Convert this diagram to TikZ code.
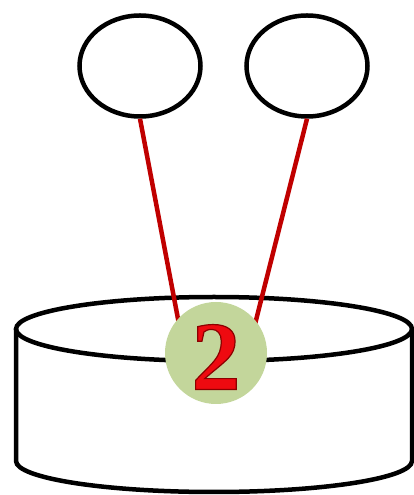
\documentclass[tikz,border=0pt]{standalone}
\usepackage{fontspec}
\setmainfont{Liberation Serif}
\usetikzlibrary{shapes.geometric}

\definecolor{badgegreen}{HTML}{C3D69B}
\definecolor{wirered}{HTML}{C00000}
\definecolor{digitred}{HTML}{EE0A10}

\newcommand{\outlined}[1]{\special{pdf:literal 2 Tr 1.2 w 0.55 0 0 RG}#1\special{pdf:literal 0 Tr}}

\begin{document}
\begin{tikzpicture}[x=1pt,y=1pt,line width=4.5pt]

    \useasboundingbox (0,0) rectangle (413,495);

    % the cylinder
    \draw (16,166) -- (16,34) arc[start angle=180,end angle=360,x radius=198,y radius=31] -- (412,166);
    \draw (214,166) ellipse[x radius=198,y radius=32];

    \node[ellipse, draw, minimum width=121, minimum height=101, inner sep=0] (leftball) at (140,429) {};
    \node[ellipse, draw, minimum width=121, minimum height=101, inner sep=0] (rightball) at (307,429) {};

    \coordinate (leftend) at (182,155);
    \coordinate (rightend) at (251,155);
    \draw[wirered] (leftball.south) -- (leftend);
    \draw[wirered] (rightball.south) -- (rightend);

    \node[circle, fill=badgegreen, minimum size=102, inner sep=0] (badge) at (216,142) {};
    \node[text=digitred, font=\fontsize{98}{98}\selectfont\bfseries, yshift=-4] (number) at (badge) {\outlined{2}};

\end{tikzpicture}
\end{document}
